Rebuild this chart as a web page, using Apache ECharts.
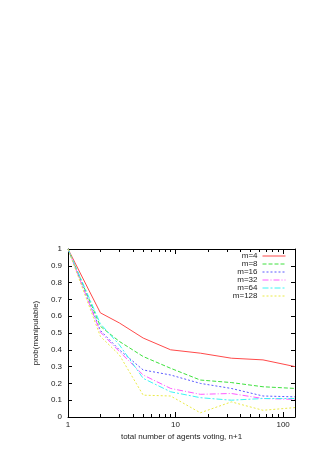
<!DOCTYPE html>
<html>
<head>
<meta charset="utf-8">
<script src="https://cdn.jsdelivr.net/npm/echarts@6/dist/echarts.min.js"></script>
<style>
html, body { margin: 0; padding: 0; background: #fff; }
#app { width: 331px; height: 468px; }
</style>
</head>
<body>
<div id="app"></div>
<script>
// n+1 values where each curve was sampled
var agents = [1, 2, 3, 5, 9, 17, 33, 65, 129];

var seriesNames = ['m=4', 'm=8', 'm=16', 'm=32', 'm=64', 'm=128'];
var m4   = [1, 0.62, 0.56, 0.47, 0.40, 0.38, 0.35, 0.34, 0.30];
var m8   = [1, 0.54, 0.45, 0.36, 0.29, 0.22, 0.205, 0.18, 0.17];
var m16  = [1, 0.515, 0.40, 0.28, 0.25, 0.20, 0.17, 0.125, 0.12];
var m32  = [1, 0.505, 0.39, 0.25, 0.17, 0.135, 0.14, 0.11, 0.105];
var m64  = [1, 0.555, 0.43, 0.23, 0.15, 0.115, 0.10, 0.11, 0.11];
var m128 = [1, 0.48, 0.37, 0.13, 0.125, 0.025, 0.09, 0.04, 0.056];
var seriesValues = [m4, m8, m16, m32, m64, m128];

var majorTicks = [1, 10, 100];
var minorTicks = [2, 3, 4, 5, 6, 7, 8, 9, 20, 30, 40, 50, 60, 70, 80, 90];

var colors = ['#ff4a4a', '#3ee03e', '#5a5aff', '#ff5cff', '#3cf4f4', '#eaea48'];
var dashes = ['solid', [4, 2], [2, 2], [6, 2, 1, 2], [6, 2, 2, 2], [2, 2]];

var font = 'Liberation Sans';
var xMin = 1, xMax = 129;

function xAx(pos, ticks, len, showLine, showLabel) {
    return {
        type: 'log',
        logBase: 10,
        position: pos,
        min: xMin,
        max: xMax,
        axisLine: { show: showLine, lineStyle: { color: '#000', width: 1 } },
        axisTick: { show: true, inside: true, length: len, customValues: ticks,
            lineStyle: { color: '#000', width: 1 } },
        axisLabel: { show: showLabel, customValues: majorTicks, margin: 4,
            fontFamily: font, fontSize: 8, color: '#222' },
        splitLine: { show: false },
        minorTick: { show: false }
    };
}

var xAxes = [
    xAx('bottom', majorTicks, 5, true, true),
    xAx('bottom', minorTicks, 3, false, false),
    xAx('top', majorTicks, 5, true, false),
    xAx('top', minorTicks, 3, false, false)
];
xAxes[0].name = 'total number of agents voting, n+1';
xAxes[0].nameLocation = 'middle';
xAxes[0].nameGap = 16;
xAxes[0].nameTextStyle = { fontFamily: font, fontSize: 8, color: '#222' };

function yAx(pos, showLabel) {
    return {
        type: 'value',
        position: pos,
        min: 0,
        max: 1,
        interval: 0.1,
        axisLine: { show: true, lineStyle: { color: '#000', width: 1 } },
        axisTick: { show: true, inside: true, length: 4, lineStyle: { color: '#000' } },
        axisLabel: { show: showLabel, margin: 6, fontFamily: font, fontSize: 8, color: '#222',
            formatter: function (v) { return String(+v.toFixed(1)); } },
        splitLine: { show: false }
    };
}
var yAxes = [yAx('left', true), yAx('right', false)];
yAxes[0].name = 'prob(manipulable)';
yAxes[0].nameLocation = 'middle';
yAxes[0].nameGap = 26;
yAxes[0].nameTextStyle = { fontFamily: font, fontSize: 8, color: '#222' };

var series = seriesNames.map(function (name, i) {
    return {
        name: name,
        type: 'line',
        xAxisIndex: 0,
        yAxisIndex: 0,
        symbol: 'none',
        silent: true,
        animation: false,
        lineStyle: { color: colors[i], width: 1, type: dashes[i] },
        itemStyle: { color: colors[i] },
        data: agents.map(function (a, j) { return [a, seriesValues[i][j]]; })
    };
});

var legends = seriesNames.map(function (name, i) {
    return {
        data: [name],
        right: 45,
        top: 252 + i * 8,
        align: 'right',
        itemWidth: 23,
        itemHeight: 8,
        itemGap: 0,
        padding: 0,
        itemStyle: { color: 'rgba(0,0,0,0)', borderWidth: 0, opacity: 0 },
        lineStyle: { width: 1 },
        textStyle: { fontFamily: font, fontSize: 8, color: '#222' }
    };
});

var option = {
    backgroundColor: '#fff',
    animation: false,
    grid: { left: 68, right: 36, top: 249, bottom: 51, containLabel: false },
    legend: legends,
    xAxis: xAxes,
    yAxis: yAxes,
    series: series
};

var myChart = echarts.init(document.getElementById('app'), null, { renderer: 'canvas' });
myChart.setOption(option);
</script>
</body>
</html>
